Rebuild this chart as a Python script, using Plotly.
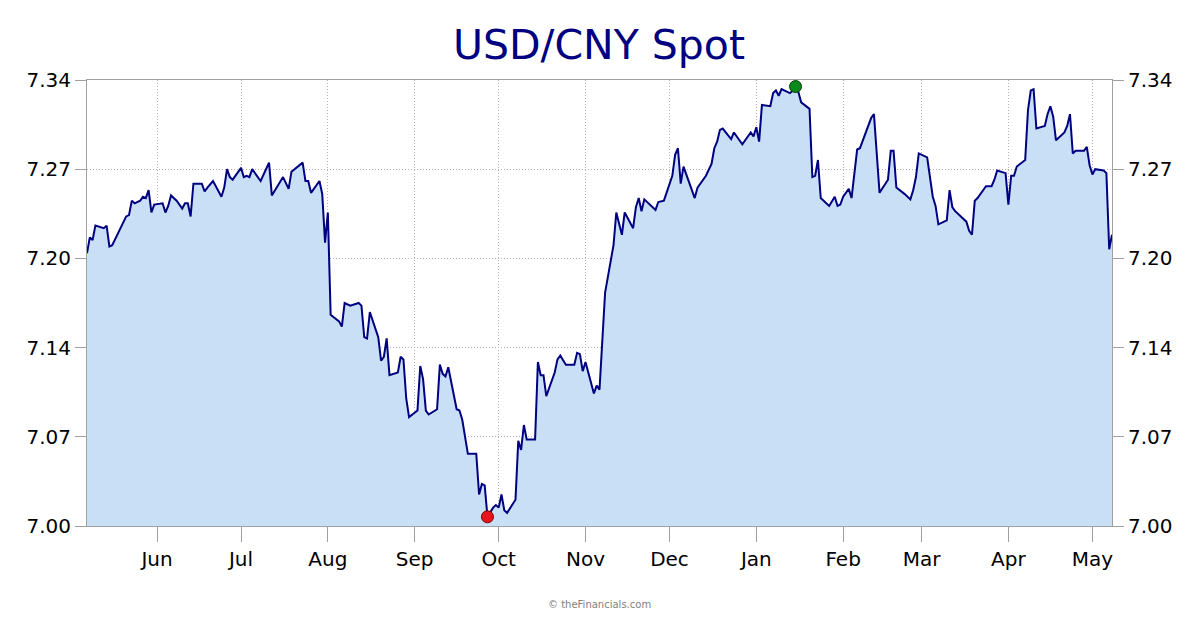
import plotly.graph_objects as go

# ---- data ----
dates = [
    "2024-05-07","2024-05-08","2024-05-09","2024-05-10","2024-05-13","2024-05-14","2024-05-15","2024-05-16",
    "2024-05-21","2024-05-22","2024-05-23","2024-05-24","2024-05-26","2024-05-27","2024-05-28","2024-05-29",
    "2024-05-30","2024-05-31","2024-06-03","2024-06-04","2024-06-05","2024-06-06","2024-06-08","2024-06-10",
    "2024-06-11","2024-06-12","2024-06-13","2024-06-14","2024-06-17","2024-06-18","2024-06-19","2024-06-21",
    "2024-06-24","2024-06-25","2024-06-26","2024-06-27","2024-06-28","2024-07-01","2024-07-02","2024-07-03",
    "2024-07-04","2024-07-05","2024-07-08","2024-07-11","2024-07-12","2024-07-16","2024-07-18","2024-07-19",
    "2024-07-23","2024-07-24","2024-07-25","2024-07-26","2024-07-29","2024-07-30","2024-07-31","2024-08-01",
    "2024-08-02","2024-08-05","2024-08-06","2024-08-07","2024-08-09","2024-08-12","2024-08-13","2024-08-14",
    "2024-08-15","2024-08-16","2024-08-19","2024-08-20","2024-08-21","2024-08-22","2024-08-23","2024-08-26",
    "2024-08-27","2024-08-28","2024-08-29","2024-08-30","2024-09-02","2024-09-03","2024-09-04","2024-09-05",
    "2024-09-06","2024-09-09","2024-09-10","2024-09-11","2024-09-12","2024-09-13","2024-09-16","2024-09-17",
    "2024-09-18","2024-09-20","2024-09-23","2024-09-24","2024-09-25","2024-09-26","2024-09-27","2024-09-29",
    "2024-09-30","2024-10-01","2024-10-02","2024-10-03","2024-10-04","2024-10-07","2024-10-08","2024-10-09",
    "2024-10-10","2024-10-11","2024-10-14","2024-10-15","2024-10-16","2024-10-17","2024-10-18","2024-10-21",
    "2024-10-22","2024-10-23","2024-10-25","2024-10-28","2024-10-29","2024-10-30","2024-10-31","2024-11-01",
    "2024-11-04","2024-11-05","2024-11-06","2024-11-07","2024-11-08","2024-11-11","2024-11-12","2024-11-14",
    "2024-11-15","2024-11-18","2024-11-19","2024-11-20","2024-11-21","2024-11-22","2024-11-26","2024-11-27",
    "2024-11-29","2024-12-02","2024-12-03","2024-12-04","2024-12-05","2024-12-06","2024-12-10","2024-12-11",
    "2024-12-14","2024-12-16","2024-12-17","2024-12-18","2024-12-19","2024-12-20","2024-12-23","2024-12-24",
    "2024-12-27","2024-12-30","2024-12-31","2025-01-01","2025-01-02","2025-01-03","2025-01-06","2025-01-07",
    "2025-01-08","2025-01-09","2025-01-10","2025-01-13","2025-01-14","2025-01-15","2025-01-16","2025-01-17",
    "2025-01-20","2025-01-21","2025-01-22","2025-01-23","2025-01-24","2025-01-27","2025-01-29","2025-01-30",
    "2025-01-31","2025-02-01","2025-02-03","2025-02-04","2025-02-05","2025-02-06","2025-02-07","2025-02-09",
    "2025-02-10","2025-02-11","2025-02-12","2025-02-14","2025-02-17","2025-02-18","2025-02-19","2025-02-20",
    "2025-02-23","2025-02-25","2025-02-26","2025-02-27","2025-02-28","2025-03-03","2025-03-05","2025-03-06",
    "2025-03-07","2025-03-10","2025-03-11","2025-03-12","2025-03-13","2025-03-17","2025-03-18","2025-03-19",
    "2025-03-20","2025-03-21","2025-03-24","2025-03-26","2025-03-27","2025-03-28","2025-03-31","2025-04-01",
    "2025-04-02","2025-04-03","2025-04-04","2025-04-07","2025-04-08","2025-04-09","2025-04-10","2025-04-11",
    "2025-04-14","2025-04-15","2025-04-16","2025-04-17","2025-04-18","2025-04-21","2025-04-22","2025-04-23",
    "2025-04-24","2025-04-25","2025-04-28","2025-04-29","2025-04-30","2025-05-01","2025-05-02","2025-05-05",
    "2025-05-06","2025-05-07","2025-05-08",
]
rates = [
    7.208, 7.220, 7.218, 7.229, 7.227, 7.229, 7.213, 7.214,
    7.236, 7.237, 7.248, 7.246, 7.248, 7.251, 7.250, 7.256,
    7.239, 7.245, 7.246, 7.239, 7.244, 7.252, 7.248, 7.242,
    7.246, 7.246, 7.236, 7.261, 7.261, 7.255, 7.258, 7.263,
    7.251, 7.258, 7.272, 7.266, 7.264, 7.273, 7.266, 7.267,
    7.266, 7.272, 7.263, 7.277, 7.252, 7.266, 7.257, 7.270,
    7.277, 7.263, 7.263, 7.254, 7.263, 7.253, 7.216, 7.239,
    7.161, 7.156, 7.152, 7.170, 7.168, 7.170, 7.168, 7.144,
    7.143, 7.163, 7.144, 7.126, 7.129, 7.143, 7.115, 7.117,
    7.129, 7.127, 7.097, 7.083, 7.088, 7.122, 7.112, 7.088,
    7.085, 7.089, 7.123, 7.116, 7.114, 7.121, 7.089, 7.088,
    7.081, 7.055, 7.055, 7.024, 7.032, 7.031, 7.007, 7.014,
    7.016, 7.014, 7.024, 7.012, 7.010, 7.020, 7.065, 7.058,
    7.077, 7.066, 7.066, 7.125, 7.115, 7.115, 7.099, 7.117,
    7.127, 7.130, 7.123, 7.123, 7.132, 7.131, 7.118, 7.125,
    7.101, 7.107, 7.104, 7.144, 7.178, 7.214, 7.239, 7.222,
    7.239, 7.227, 7.243, 7.250, 7.240, 7.249, 7.241, 7.247,
    7.248, 7.267, 7.283, 7.288, 7.261, 7.274, 7.250, 7.258,
    7.267, 7.276, 7.288, 7.293, 7.302, 7.303, 7.295, 7.300,
    7.291, 7.300, 7.297, 7.304, 7.293, 7.321, 7.320, 7.330,
    7.332, 7.328, 7.333, 7.330, 7.332, 7.335, 7.331, 7.323,
    7.318, 7.266, 7.267, 7.279, 7.250, 7.244, 7.251, 7.244,
    7.245, 7.251, 7.257, 7.250, 7.271, 7.287, 7.288, 7.299,
    7.304, 7.311, 7.314, 7.254, 7.264, 7.286, 7.286, 7.258,
    7.253, 7.249, 7.256, 7.266, 7.284, 7.281, 7.251, 7.244,
    7.230, 7.233, 7.256, 7.243, 7.240, 7.232, 7.225, 7.222,
    7.248, 7.250, 7.259, 7.259, 7.264, 7.271, 7.269, 7.245,
    7.267, 7.267, 7.274, 7.279, 7.317, 7.332, 7.333, 7.303,
    7.305, 7.314, 7.320, 7.312, 7.294, 7.300, 7.305, 7.314,
    7.284, 7.286, 7.286, 7.289, 7.275, 7.268, 7.272, 7.271,
    7.269, 7.211, 7.222,
]

y_tickvals = [7.00, 7.068, 7.136, 7.204, 7.272, 7.34]
y_ticktext = ["7.00", "7.07", "7.14", "7.20", "7.27", "7.34"]
x_tickvals = ["2024-06-01", "2024-07-01", "2024-08-01", "2024-09-01", "2024-10-01", "2024-11-01",
              "2024-12-01", "2025-01-01", "2025-02-01", "2025-03-01", "2025-04-01", "2025-05-01"]
x_ticktext = ["Jun", "Jul", "Aug", "Sep", "Oct", "Nov", "Dec", "Jan", "Feb", "Mar", "Apr", "May"]

title_text = "USD/CNY Spot"
footer_text = "© theFinancials.com"

# ---- figure ----
i_min = min(range(len(rates)), key=lambda i: rates[i])
i_max = max(range(len(rates)), key=lambda i: rates[i])

FONT = "DejaVu Sans"
NAVY = "#000080"
AXIS = "#a0a0a0"
GRID = "#b4b4b4"
GRIDDASH = "1px,2px"

fig = go.Figure()
fig.add_trace(go.Scatter(
    x=dates, y=rates, mode="lines",
    line=dict(color=NAVY, width=2),
    fill="tozeroy", fillcolor="#c8dff6",
    hoverinfo="x+y", showlegend=False,
))
# invisible copy on the right axis so it is drawn
fig.add_trace(go.Scatter(
    x=dates, y=rates, mode="lines", yaxis="y2",
    line=dict(width=0, color="rgba(0,0,0,0)"),
    hoverinfo="skip", showlegend=False,
))
fig.add_trace(go.Scatter(
    x=[dates[i_min]], y=[rates[i_min]], mode="markers",
    marker=dict(size=12, color="#e8141b", line=dict(color="#7a0000", width=1)),
    showlegend=False,
))
fig.add_trace(go.Scatter(
    x=[dates[i_max]], y=[rates[i_max]], mode="markers",
    marker=dict(size=12, color="#0a8a1a", line=dict(color="#004000", width=1)),
    showlegend=False,
))

yaxis_common = dict(
    range=[7.00, 7.34],
    tickvals=y_tickvals, ticktext=y_ticktext,
    showgrid=True, gridcolor=GRID, griddash=GRIDDASH, gridwidth=1,
    showline=True, linecolor=AXIS, linewidth=1,
    ticks="outside", ticklen=11, tickcolor=AXIS,
    tickfont=dict(family=FONT, size=20, color="#000000"),
    zeroline=False, fixedrange=True,
)

fig.update_layout(
    width=1200, height=630,
    margin=dict(l=79, r=96, t=72, b=112),
    paper_bgcolor="white", plot_bgcolor="white",
    title=dict(text=title_text, x=591 / 1200, xanchor="center", y=1 - 37 / 630, yanchor="middle",
               font=dict(family=FONT, size=41, color=NAVY)),
    xaxis=dict(
        type="date",
        range=["2024-05-07", "2025-05-08"],
        tickvals=x_tickvals, ticktext=x_ticktext,
        showgrid=True, gridcolor=GRID, griddash=GRIDDASH, gridwidth=1,
        showline=True, linecolor=AXIS, linewidth=1, mirror=True,
        ticks="outside", ticklen=15, tickcolor=AXIS,
        tickfont=dict(family=FONT, size=20, color="#000000"),
        zeroline=False, fixedrange=True,
    ),
    yaxis=dict(side="left", **yaxis_common),
    yaxis2=dict(side="right", overlaying="y", **yaxis_common),
    annotations=[dict(
        text=footer_text, xref="paper", yref="paper", x=0.5, y=-(596 - 518) / 446,
        xanchor="center", yanchor="middle", showarrow=False,
        font=dict(family=FONT, size=10, color="#808080"),
    )],
)

fig.write_html("out.html")
